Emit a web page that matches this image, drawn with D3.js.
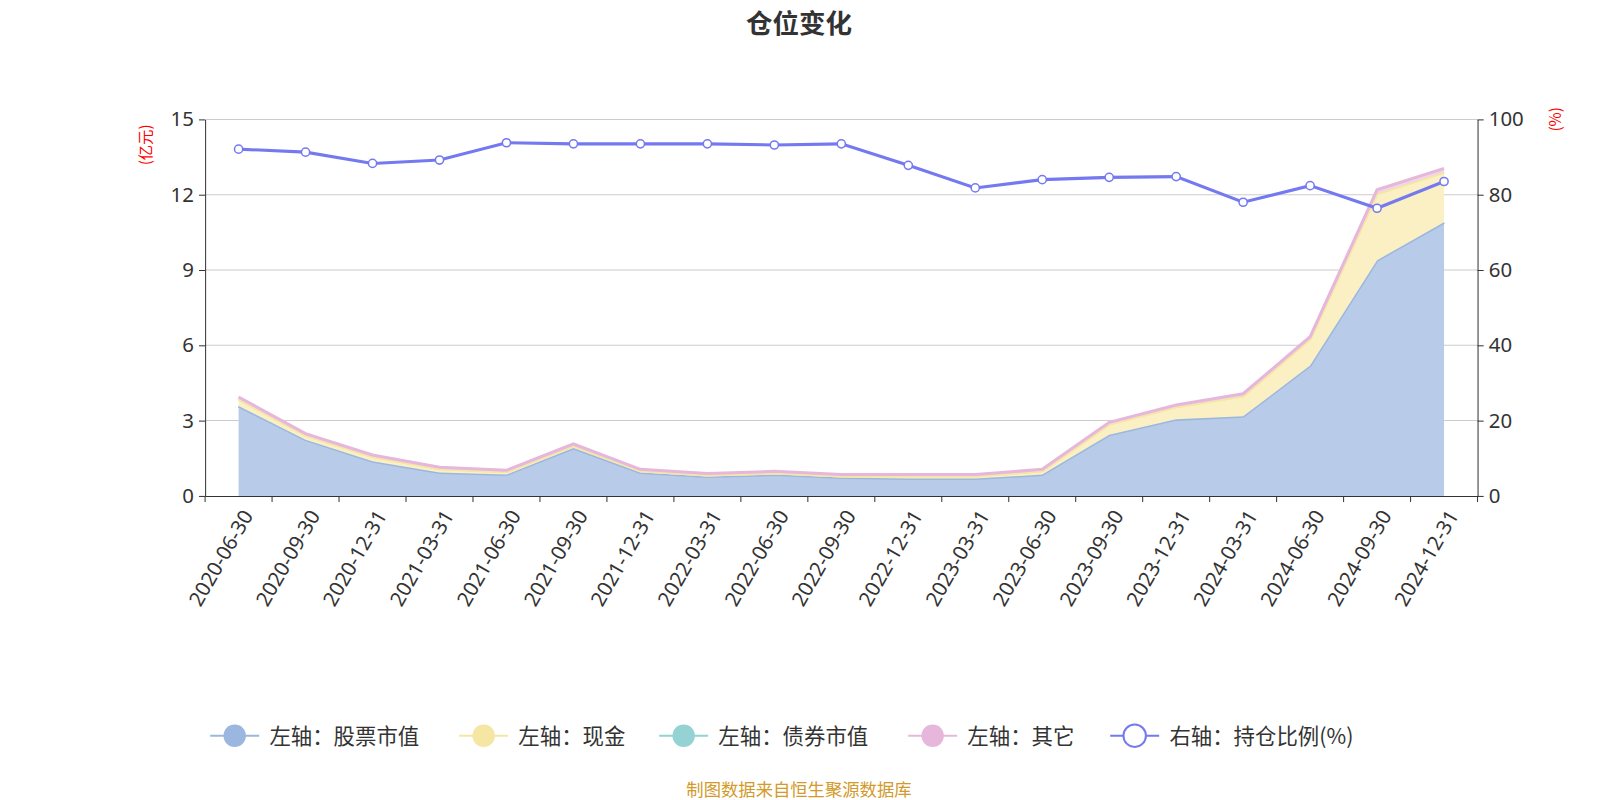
<!DOCTYPE html><html><head><meta charset="utf-8">
<script src="https://cdn.jsdelivr.net/npm/d3@7"></script>
<style>body{margin:0;background:#fff;font-family:"Noto Sans CJK SC","Noto Sans",sans-serif}</style></head><body>
<svg id="c" width="1600" height="800"></svg>
<script>
const categories=["2020-06-30","2020-09-30","2020-12-31","2021-03-31","2021-06-30","2021-09-30","2021-12-31","2022-03-31","2022-06-30","2022-09-30","2022-12-31","2023-03-31","2023-06-30","2023-09-30","2023-12-31","2024-03-31","2024-06-30","2024-09-30","2024-12-31"];
const stock=[3.58,2.24,1.38,0.93,0.85,1.91,0.93,0.77,0.85,0.73,0.69,0.69,0.85,2.44,3.05,3.17,5.2,9.39,10.9];
const cash=[0.28,0.18,0.19,0.15,0.11,0.10,0.07,0.06,0.07,0.06,0.10,0.10,0.15,0.42,0.50,0.82,1.06,2.66,2.0];
const bond=[0,0,0,0,0,0,0,0,0,0,0,0,0,0,0,0,0,0,0];
const other=[0.08,0.06,0.06,0.06,0.06,0.06,0.06,0.06,0.06,0.06,0.06,0.06,0.06,0.07,0.07,0.08,0.08,0.15,0.15];
const ratio=[92.1,91.3,88.3,89.2,93.8,93.5,93.5,93.5,93.2,93.5,87.8,81.8,84.0,84.6,84.8,78.0,82.4,76.4,83.5];
const leftTicks=[0,3,6,9,12,15], rightTicks=[0,20,40,60,80,100];
const svg=d3.select("#c").append("g").attr("transform","scale(1.0204)");
const L=201,R=1448,T=117,B=486;
const x=d3.scaleBand().domain(categories).range([L,R]);
const cx=d=>x(d)+x.bandwidth()/2;
const y=d3.scaleLinear().domain([0,15]).range([B,T]);
const y2=d3.scaleLinear().domain([0,100]).range([B,T]);
svg.append("text").attr("x",783).attr("y",32).attr("text-anchor","middle").attr("font-size",26).attr("font-weight","bold").attr("fill","#333").text("仓位变化");
svg.append("g").selectAll("line").data(leftTicks.slice(1)).join("line").attr("x1",L).attr("x2",R).attr("y1",y).attr("y2",y).attr("stroke","#ccc");
const gl=svg.append("g").attr("transform",`translate(${L},0)`).call(d3.axisLeft(y).tickValues(leftTicks).tickSize(6).tickSizeOuter(0));
const gr=svg.append("g").attr("transform",`translate(${R},0)`).call(d3.axisRight(y2).tickValues(rightTicks).tickSize(6).tickSizeOuter(0));
[gl,gr].forEach(g=>{g.select(".domain").attr("stroke","#333");g.selectAll("line").attr("stroke","#333");g.selectAll("text").attr("font-size",20).attr("fill","#333").attr("font-family","Noto Sans");});
gl.selectAll("text").attr("dx",-2);gr.selectAll("text").attr("dx",2);
const gx=svg.append("g").attr("transform",`translate(0,${B})`).call(d3.axisBottom(x).tickSize(6).tickSizeOuter(0));
gx.select(".domain").attr("stroke","#333");gx.selectAll("line").attr("stroke","#333").attr("transform",`translate(${-x.bandwidth()/2},0)`);
svg.append("line").attr("x1",R).attr("x2",R).attr("y1",B).attr("y2",B+6).attr("stroke","#333");
gx.selectAll("text").attr("font-size",20).attr("fill","#333").attr("font-family","Noto Sans").attr("text-anchor","end").attr("transform","translate(4,6) rotate(-60)").attr("dy","0.35em").attr("dx","-0.3em");
svg.append("text").attr("transform","translate(148,142) rotate(-90)").attr("text-anchor","middle").attr("font-size",15).attr("fill","red").text("(亿元)");
svg.append("text").attr("transform","translate(1530,117) rotate(-90)").attr("text-anchor","middle").attr("font-size",15).attr("fill","red").text("(%)");
const rows=categories.map((c,i)=>({c,stock:stock[i],cash:cash[i],bond:bond[i],other:other[i]}));
const st=d3.stack().keys(["stock","cash","bond","other"])(rows);
const fills=["#b8cce9","#faf0c3","#bfe3e6","#f0d5ea"],lines=["#9bb7e0","#f5e6a4","#f5e6a4","#e6b7db"];
st.forEach((s,k)=>{
 svg.append("path").datum(s).attr("fill",fills[k]).attr("d",d3.area().x((d,i)=>cx(categories[i])).y0(d=>y(d[0])).y1(d=>y(d[1])));
 svg.append("path").datum(s).attr("fill","none").attr("stroke",lines[k]).attr("stroke-width",3).attr("d",d3.line().x((d,i)=>cx(categories[i])).y(d=>y(d[1])));
});
svg.append("path").datum(ratio).attr("fill","none").attr("stroke","#7479f0").attr("stroke-width",3).attr("d",d3.line().x((d,i)=>cx(categories[i])).y(d=>y2(d)));
svg.append("g").selectAll("circle").data(ratio).join("circle").attr("cx",(d,i)=>cx(categories[i])).attr("cy",d=>y2(d)).attr("r",4).attr("fill","#fff").attr("stroke","#7479f0").attr("stroke-width",1.5);
const leg=[["左轴：股票市值","#9bb7e0",206],["左轴：现金","#f5e6a4",450],["左轴：债券市值","#95d2d4",646],["左轴：其它","#e6b7db",890],["右轴：持仓比例(%)","#7479f0",1088]];
leg.forEach(([t,c,lx],i)=>{
 const g=svg.append("g");
 g.append("line").attr("x1",lx).attr("x2",lx+48).attr("y1",721).attr("y2",721).attr("stroke",c).attr("stroke-width",2);
 if(i<4)g.append("circle").attr("cx",lx+24).attr("cy",721).attr("r",11).attr("fill",c);
 else g.append("circle").attr("cx",lx+24).attr("cy",721).attr("r",11).attr("fill","#fff").attr("stroke",c).attr("stroke-width",2);
 g.append("text").attr("x",lx+58).attr("y",729).attr("font-size",21).attr("fill","#333").text(t);
});
svg.append("text").attr("x",783).attr("y",780).attr("text-anchor","middle").attr("font-size",17).attr("fill","#d29a2a").text("制图数据来自恒生聚源数据库");
</script></body></html>
